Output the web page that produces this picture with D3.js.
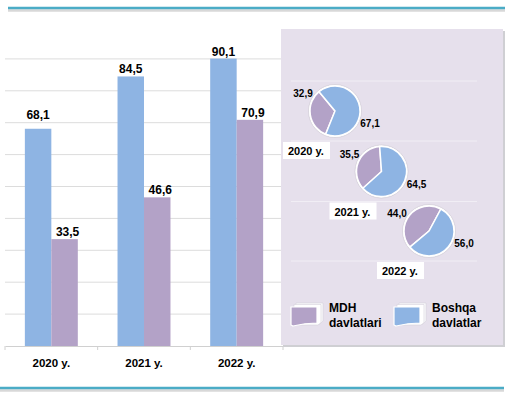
<!DOCTYPE html>
<html>
<head>
<meta charset="utf-8">
<script src="https://cdn.jsdelivr.net/npm/d3@7"></script>
<style>
  body { margin: 0; background: #fff; }
  text { font-family: "Liberation Sans", Arial, sans-serif; font-weight: bold; fill: #000; }
</style>
</head>
<body>
<svg id="chart" width="511" height="397"></svg>
<script>
// data
const years = ["2020 y.", "2021 y.", "2022 y."];
const series = ["Boshqa davlatlar", "MDH davlatlari"];
const boshqaValues = [68.1, 84.5, 90.1];
const mdhValues = [33.5, 46.6, 70.9];
const pieMdh = [32.9, 35.5, 44.0];
const pieBoshqa = [67.1, 64.5, 56.0];
const yTicks = [10, 20, 30, 40, 50, 60, 70, 80, 90];

const blue = "#8EB4E3", purple = "#B3A2C7";
const fmt = v => d3.format(".1f")(v).replace(".", ",");

const svg = d3.select("#chart");

// top and bottom rules with soft shadow
function rule(x1, x2, y) {
  svg.append("line").attr("x1", x1).attr("x2", x2).attr("y1", y + 2.5).attr("y2", y + 2.5)
    .attr("stroke", "#d8d8d8").attr("stroke-width", 2.5);
  svg.append("line").attr("x1", x1).attr("x2", x2).attr("y1", y).attr("y2", y)
    .attr("stroke", "#4BACC6").attr("stroke-width", 2.5);
}
rule(8, 505, 8);
rule(0, 504, 388);

// bar chart
const x0 = d3.scaleBand().domain(years).range([5, 283]);
const x1 = d3.scaleBand().domain(series).range([0, x0.bandwidth()]).paddingOuter(0.75);
const y = d3.scaleLinear().domain([0, 100]).range([346, 27]);

svg.append("g").selectAll("line").data(yTicks).join("line")
  .attr("x1", 5).attr("x2", 283)
  .attr("y1", d => y(d)).attr("y2", d => y(d))
  .attr("stroke", "#dcdcdc").attr("stroke-width", 1);

const xAxis = svg.append("g").attr("transform", `translate(0,${y(0)})`)
  .call(d3.axisBottom(x0).tickSize(0).tickPadding(13));
xAxis.select(".domain").attr("stroke", "#d0d0d0");
xAxis.selectAll("text").style("font-size", "11.5px").style("font-family", "Liberation Sans, Arial").style("font-weight", "bold");
// boundary ticks between categories
xAxis.selectAll(".sep").data([5, ...years.map(d => x0(d) + x0.bandwidth())]).join("line")
  .attr("x1", d => d).attr("x2", d => d).attr("y1", 0).attr("y2", 4).attr("stroke", "#d0d0d0");

const rows = years.map((yr, i) => ({ yr, vals: [boshqaValues[i], mdhValues[i]] }));
const groups = svg.append("g").selectAll("g").data(rows).join("g")
  .attr("transform", d => `translate(${x0(d.yr)},0)`);
groups.selectAll("rect").data(d => d.vals.map((v, j) => ({ s: series[j], v }))).join("rect")
  .attr("x", d => x1(d.s)).attr("width", x1.bandwidth())
  .attr("y", d => y(d.v)).attr("height", d => y(0) - y(d.v))
  .attr("fill", d => d.s === series[0] ? blue : purple);
groups.selectAll("text").data(d => d.vals.map((v, j) => ({ s: series[j], v }))).join("text")
  .attr("x", d => x1(d.s) + x1.bandwidth() / 2 + (d.s === series[1] ? 3 : 0))
  .attr("y", d => y(d.v) - (d.v === boshqaValues[0] ? 10 : 3))
  .attr("text-anchor", "middle").style("font-size", "12px")
  .text(d => fmt(d.v));

// pie panel
const panel = { x: 281, y: 29, w: 222, h: 316 };
svg.append("rect").attr("x", panel.x + 2).attr("y", panel.y + 2).attr("width", panel.w).attr("height", panel.h)
  .attr("fill", "#cfcfd3");
svg.append("rect").attr("x", panel.x).attr("y", panel.y).attr("width", panel.w).attr("height", panel.h)
  .attr("fill", "#E6E0EC");

const pieCenters = [[335, 111], [381.5, 171.5], [429, 231]];
const pieStart = [202, 228, 230].map(a => a * Math.PI / 180);
const r = 25;

const lineYs = [pieCenters[0][1] - 30, ...pieCenters.map(c => c[1] + 30)];
svg.append("g").selectAll("line").data(lineYs).join("line")
  .attr("x1", 291).attr("x2", 477).attr("y1", d => d).attr("y2", d => d)
  .attr("stroke", "#f1eef5").attr("stroke-width", 1);

const arc = d3.arc().innerRadius(0).outerRadius(r);
years.forEach((yr, i) => {
  const [cx, cy] = pieCenters[i];
  const pie = d3.pie().sort(null).startAngle(pieStart[i]).endAngle(pieStart[i] + 2 * Math.PI);
  const g = svg.append("g").attr("transform", `translate(${cx},${cy})`);
  g.append("circle").attr("r", r + 1.5).attr("fill", "#fff").attr("stroke", "#c9c4cf").attr("stroke-width", 0.6);
  g.selectAll("path").data(pie([pieMdh[i], pieBoshqa[i]])).join("path")
    .attr("d", arc).attr("fill", (d, j) => j === 0 ? purple : blue)
    .attr("stroke", "#fff").attr("stroke-width", 1.5);
  g.append("text").attr("x", -32).attr("y", -14).attr("text-anchor", "middle")
    .style("font-size", "10px").text(fmt(pieMdh[i]));
  g.append("text").attr("x", 35).attr("y", 16).attr("text-anchor", "middle")
    .style("font-size", "10px").text(fmt(pieBoshqa[i]));
  g.append("rect").attr("x", -52).attr("y", 31).attr("width", 47).attr("height", 17).attr("fill", "#fff");
  g.append("text").attr("x", -47).attr("y", 44).style("font-size", "11px").text(yr);
});

// legend
const legend = [
  { x: 291, color: purple, lines: ["MDH", "davlatlari"] },
  { x: 394, color: blue, lines: ["Boshqa", "davlatlar"] }
];
const lg = svg.append("g").selectAll("g").data(legend).join("g")
  .attr("transform", d => `translate(${d.x},303)`);
lg.append("path").attr("d", "M5,0 L32,0 L32,18 L29,21 L5,21 Z").attr("fill", "#fbfbfd").attr("stroke", "#d5d0da").attr("stroke-width", 0.6);
lg.append("path").attr("d", "M3,1.5 L30,1.5 L30,19.5 L27,22 L3,22 Z").attr("fill", "#fff").attr("stroke", "#d5d0da").attr("stroke-width", 0.6);
lg.append("path").attr("d", "M0,4 L26,4 L26,20 Q14,20 2,23 L0,22 Z").attr("fill", d => d.color).attr("stroke", "#fff").attr("stroke-width", 1.2);
lg.selectAll("text").data(d => d.lines).join("text")
  .attr("x", 38).attr("y", (d, i) => 9 + i * 15).style("font-size", "12px").text(d => d);
</script>
</body>
</html>
